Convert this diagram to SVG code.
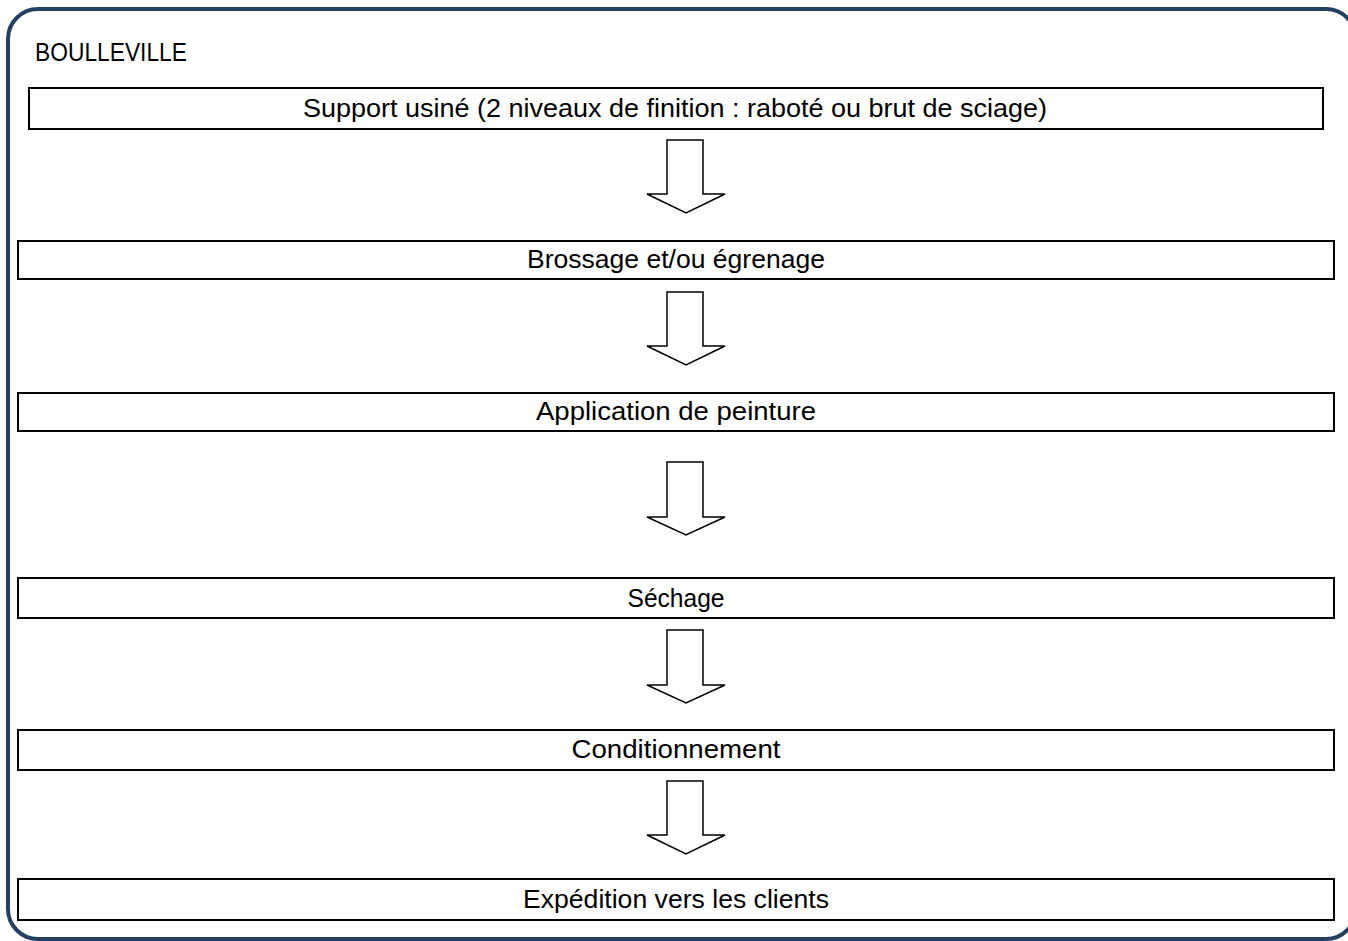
<svg xmlns="http://www.w3.org/2000/svg" width="1348" height="941" viewBox="0 0 1348 941">
<style>
.frame{fill:none;stroke:#243F60;stroke-width:4}
.box{fill:#fff;stroke:#000;stroke-width:2}
.arrow{fill:#fff;stroke:#000;stroke-width:1.5;stroke-linejoin:miter}
text{font-family:"Liberation Sans",Arial,sans-serif;font-size:26px;fill:#000}
.c{text-anchor:middle}
</style>
<rect class="frame" x="8" y="9" width="1348" height="930" rx="30" ry="30"/>
<g id="title"><text x="35" y="61" textLength="152" lengthAdjust="spacingAndGlyphs">BOULLEVILLE</text></g>
<g id="n1"><rect class="box" x="29" y="88" width="1294" height="41"/><text class="c" x="675" y="117" textLength="744" lengthAdjust="spacingAndGlyphs">Support usiné (2 niveaux de finition : raboté ou brut de sciage)</text></g>
<g id="n2"><rect class="box" x="18" y="241" width="1316" height="38"/><text class="c" x="676" y="268" textLength="298" lengthAdjust="spacingAndGlyphs">Brossage et/ou égrenage</text></g>
<g id="n3"><rect class="box" x="18" y="393" width="1316" height="38"/><text class="c" x="676" y="420" textLength="280" lengthAdjust="spacingAndGlyphs">Application de peinture</text></g>
<g id="n4"><rect class="box" x="18" y="578" width="1316" height="40"/><text class="c" x="676" y="607" textLength="97" lengthAdjust="spacingAndGlyphs">Séchage</text></g>
<g id="n5"><rect class="box" x="18" y="730" width="1316" height="40"/><text class="c" x="676" y="758" textLength="209" lengthAdjust="spacingAndGlyphs">Conditionnement</text></g>
<g id="n6"><rect class="box" x="18" y="879" width="1316" height="41"/><text class="c" x="676" y="908" textLength="306" lengthAdjust="spacingAndGlyphs">Expédition vers les clients</text></g>
<g id="connectors">
<polygon class="arrow" points="667,140 703,140 703,194 725,194 686,213 647,194 667,194"/>
<polygon class="arrow" points="667,292 703,292 703,346 725,346 686,365 647,346 667,346"/>
<polygon class="arrow" points="667,462 703,462 703,517 725,517 686,535 647,517 667,517"/>
<polygon class="arrow" points="667,630 703,630 703,685 725,685 686,703 647,685 667,685"/>
<polygon class="arrow" points="667,781 703,781 703,835 725,835 686,854 647,835 667,835"/>
</g>
</svg>
